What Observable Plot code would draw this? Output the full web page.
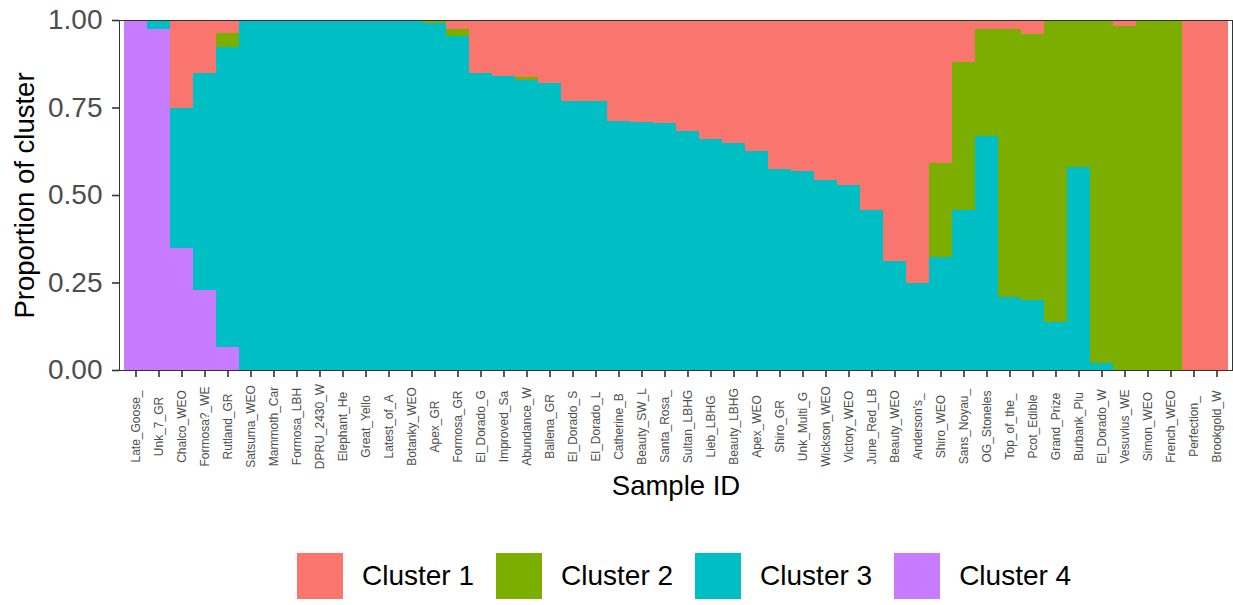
<!DOCTYPE html>
<html>
<head>
<meta charset="utf-8">
<script src="https://cdn.jsdelivr.net/npm/d3@7"></script>
<script src="https://cdn.jsdelivr.net/npm/@observablehq/plot@0.6"></script>
<style>
  html, body { margin: 0; padding: 0; background: #fff; }
  body { width: 1233px; height: 605px; overflow: hidden; font-family: "Liberation Sans", Arial, sans-serif; }
  #legend { position: absolute; top: 553px; left: 297px; display: flex; align-items: center; }
  .item { display: flex; align-items: center; margin-right: 22px; }
  .sw { width: 46px; height: 46px; margin-right: 19px; }
  .lab { font-size: 28px; color: #000; line-height: 46px; }
</style>
</head>
<body>
<div id="chart"></div>
<div id="legend"></div>
<script>
const samples = ["Late_Goose_","Unk_7_GR","Chalco_WEO","Formosa?_WE","Rutland_GR","Satsuma_WEO","Mammoth_Car","Formosa_LBH","DPRU_2430_W","Elephant_He","Great_Yello","Latest_of_A","Botanky_WEO","Apex_GR","Formosa_GR","El_Dorado_G","Improved_Sa","Abundance_W","Ballena_GR","El_Dorado_S","El_Dorado_L","Catherine_B","Beauty_SW_L","Santa_Rosa_","Sultan_LBHG","Lieb_LBHG","Beauty_LBHG","Apex_WEO","Shiro_GR","Unk_Multi_G","Wickson_WEO","Victory_WEO","June_Red_LB","Beauty_WEO","Anderson's_","Shiro_WEO","Sans_Noyau_","OG_Stoneles","Top_of_the_","Pcot_Edible","Grand_Prize","Burbank_Plu","El_Dorado_W","Vesuvius_WE","Simon_WEO","French_WEO","Perfection_","Brookgold_W"];

const clusters = ["Cluster 1","Cluster 2","Cluster 3","Cluster 4"];
const clusterColors = ["#F8766D","#7CAE00","#00BFC4","#C77CFF"];

const cluster1 = [0,0,0.25,0.15,0.037,0,0,0,0,0,0,0,0,0,0.027,0.151,0.161,0.162,0.18,0.232,0.232,0.289,0.29,0.293,0.318,0.34,0.351,0.373,0.425,0.43,0.456,0.471,0.544,0.688,0.752,0.409,0.121,0.025,0.027,0.039,0,0,0,0.016,0,0,1,1];
const cluster2 = [0,0,0,0,0.04,0,0,0,0,0,0,0,0,0.008,0.019,0,0,0.008,0,0,0,0,0,0,0,0,0,0,0,0,0,0,0,0,0,0.267,0.423,0.305,0.763,0.761,0.862,0.42,0.979,0.984,1,1,0,0];
const cluster3 = [0,0.025,0.40,0.62,0.856,1,1,1,1,1,1,1,1,0.992,0.954,0.849,0.839,0.83,0.82,0.768,0.768,0.711,0.71,0.707,0.682,0.66,0.649,0.627,0.575,0.57,0.544,0.529,0.456,0.312,0.248,0.324,0.456,0.67,0.21,0.2,0.138,0.58,0.021,0,0,0,0,0];
const cluster4 = [1,0.975,0.35,0.23,0.067,0,0,0,0,0,0,0,0,0,0,0,0,0,0,0,0,0,0,0,0,0,0,0,0,0,0,0,0,0,0,0,0,0,0,0,0,0,0,0,0,0,0,0];

const yTicks = [0, 0.25, 0.5, 0.75, 1];

const series = [cluster1, cluster2, cluster3, cluster4];
const data = [];
samples.forEach((s, i) => {
  clusters.forEach((c, k) => {
    data.push({sample: s, cluster: c, value: series[k][i]});
  });
});

const chart = Plot.plot({
  width: 1233,
  height: 520,
  marginTop: 20,
  marginBottom: 150,
  marginLeft: 119,
  marginRight: 1,
  style: {fontFamily: "'Liberation Sans', Arial, sans-serif", background: "#fff"},
  x: {domain: samples, padding: 0, label: null},
  y: {domain: [0, 1], label: null},
  color: {domain: clusters, range: clusterColors},
  marks: [
    Plot.barY(data, Plot.stackY({order: ["Cluster 4","Cluster 3","Cluster 2","Cluster 1"]}, {
      x: "sample", y: "value", fill: "cluster", shapeRendering: "crispEdges"
    })),
    Plot.frame({stroke: "#333", strokeWidth: 1}),
    Plot.axisY({ticks: yTicks, tickFormat: d3.format(".2f"), tickSize: 7, tickPadding: 10,
      fontSize: 28, fill: "#4d4d4d", stroke: "#333", strokeWidth: 1.6, label: null}),
    Plot.axisX({tickSize: 7, tickFormat: () => "", stroke: "#333", strokeWidth: 1.6, label: null}),
    Plot.text(samples, {x: d => d, text: d => d, frameAnchor: "bottom", dy: 56, rotate: -90,
      textAnchor: "middle", lineAnchor: "middle", fontSize: 12, fill: "#4d4d4d"}),
    Plot.text(["Proportion of cluster"], {text: d => d, frameAnchor: "left", dx: -94, rotate: -90,
      textAnchor: "middle", lineAnchor: "middle", fontSize: 27.5, fill: "#000"}),
    Plot.text(["Sample ID"], {text: d => d, frameAnchor: "bottom", dy: 116,
      textAnchor: "middle", lineAnchor: "middle", fontSize: 27.5, fill: "#000"})
  ]
});
document.getElementById("chart").appendChild(chart);

const colorScale = chart.scale("color");
const legend = document.getElementById("legend");
colorScale.domain.forEach((c, i) => {
  const item = document.createElement("div");
  item.className = "item";
  const sw = document.createElement("div");
  sw.className = "sw";
  sw.style.background = colorScale.range[i];
  const lab = document.createElement("span");
  lab.className = "lab";
  lab.textContent = c;
  item.appendChild(sw);
  item.appendChild(lab);
  legend.appendChild(item);
});
</script>
</body>
</html>
